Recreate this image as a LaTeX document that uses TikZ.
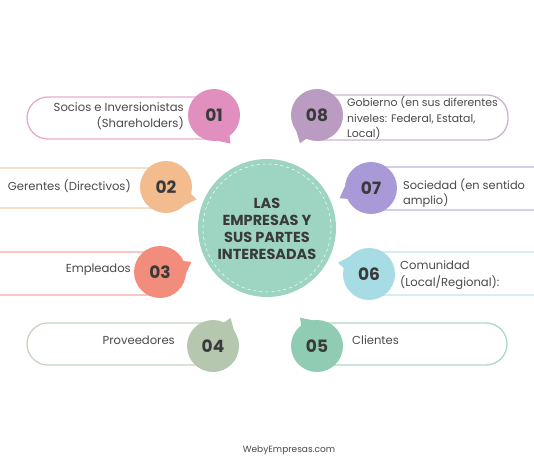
\documentclass[tikz,border=0pt]{standalone}
\usepackage{fontspec}
\setmainfont{Poppins}
\usetikzlibrary{calc}
\definecolor{cA}{HTML}{E08FBE}
\definecolor{cB}{HTML}{F2BC8F}
\definecolor{cC}{HTML}{F28D7E}
\definecolor{cD}{HTML}{B5C7AF}
\definecolor{cE}{HTML}{8FCCB3}
\definecolor{cF}{HTML}{A8DCE5}
\definecolor{cG}{HTML}{A99AD7}
\definecolor{cH}{HTML}{BA9BC1}
\definecolor{cMid}{HTML}{9ED5C2}
\definecolor{txt}{HTML}{4A4A4A}
\definecolor{numtxt}{HTML}{3A3A3A}
\tikzset{
  numcirc/.style={circle, minimum size=52pt, inner sep=0pt, text=numtxt,
    font=\fontsize{17}{17}\selectfont\bfseries},
  pill/.style={fill=white, line width=1.3pt, rounded corners=21pt},
  lbl/.style={text=txt, font=\fontsize{11.6}{16.5}\selectfont, inner sep=0pt},
}
\begin{document}
\begin{tikzpicture}[x=1pt,y=-1pt]
\useasboundingbox (0,0) rectangle (534,462);
\clip (0,0) rectangle (534,462);
\fill[white] (0,0) rectangle (534,462);
% pills
\draw[pill, draw=cA!75] (27,97) rectangle (232,139);
\draw[pill, draw=cB!75] (-30,168) rectangle (182,208);
\draw[pill, draw=cC!75] (-30,252) rectangle (178,295);
\draw[pill, draw=cD!75] (27,323) rectangle (226,365);
\draw[pill, draw=cE!75] (302,323) rectangle (507,365);
\draw[pill, draw=cG!75] (358,167) rectangle (570,210);
\draw[pill, draw=cF!75] (358,252) rectangle (570,295);
\draw[pill, draw=cH!75] (300,95) rectangle (508,140);
% centre
\node[circle, fill=cMid, minimum size=138pt, inner sep=0pt] (mid) at (267,228) {};
\draw[white, dashed, line width=0.5pt] (mid) circle[radius=64pt];
\node[text=numtxt, align=center, font=\fontsize{14.5}{17}\selectfont\bfseries] (midtxt) at (267,229)
  {LAS\\EMPRESAS Y\\SUS PARTES\\INTERESADAS};
% circle centres
\coordinate (p1) at (214,115);
\coordinate (p2) at (166,187);
\coordinate (p3) at (160,272);
\coordinate (p4) at (213,346);
\coordinate (p5) at (317,346);
\coordinate (p6) at (369,274);
\coordinate (p7) at (371,188);
\coordinate (p8) at (317,115);
% tails
\foreach \n/\a/\c in {1/-60/cA, 2/-22/cB, 3/18/cC, 4/58/cD, 5/121/cE, 6/160/cF, 7/198/cG, 8/239/cH}{
  \coordinate (t\n) at ($(p\n)+(\a:33pt)$);
  \fill[\c] ($(p\n)+(\a-30:25pt)$) -- (t\n) -- ($(p\n)+(\a+8:25pt)$) -- (p\n) -- cycle;
}
% circles
\node[numcirc, fill=cA] (n1) at (p1) {01};
\node[numcirc, fill=cB] (n2) at (p2) {02};
\node[numcirc, fill=cC] (n3) at (p3) {03};
\node[numcirc, fill=cD] (n4) at (p4) {04};
\node[numcirc, fill=cE] (n5) at (p5) {05};
\node[numcirc, fill=cF] (n6) at (p6) {06};
\node[numcirc, fill=cG] (n7) at (p7) {07};
\node[numcirc, fill=cH] (n8) at (p8) {08};
% labels
\node[lbl, anchor=east, align=right] (l1) at (184,116) {Socios e Inversionistas\\(Shareholders)};
\node[lbl, anchor=east] (l2) at (131,186) {Gerentes (Directivos)};
\node[lbl, anchor=east] (l3) at (131,270) {Empleados};
\node[lbl, anchor=east] (l4) at (175,340) {Proveedores};
\node[lbl, anchor=west] (l5) at (352,340) {Clientes};
\node[lbl, anchor=west, align=left] (l6) at (400,275) {Comunidad\\(Local/Regional):};
\node[lbl, anchor=west, align=left, font=\fontsize{11.4}{15}\selectfont] (l7) at (403,193) {Sociedad (en sentido\\amplio)};
\node[lbl, anchor=west, align=left, font=\fontsize{10.9}{15.5}\selectfont] (l8) at (347,118) {Gobierno (en sus diferentes\\niveles: Federal, Estatal,\\Local)};
\node[text=txt, font=\fontsize{9}{10}\selectfont] (web) at (289,450) {WebyEmpresas.com};
\end{tikzpicture}
\end{document}
